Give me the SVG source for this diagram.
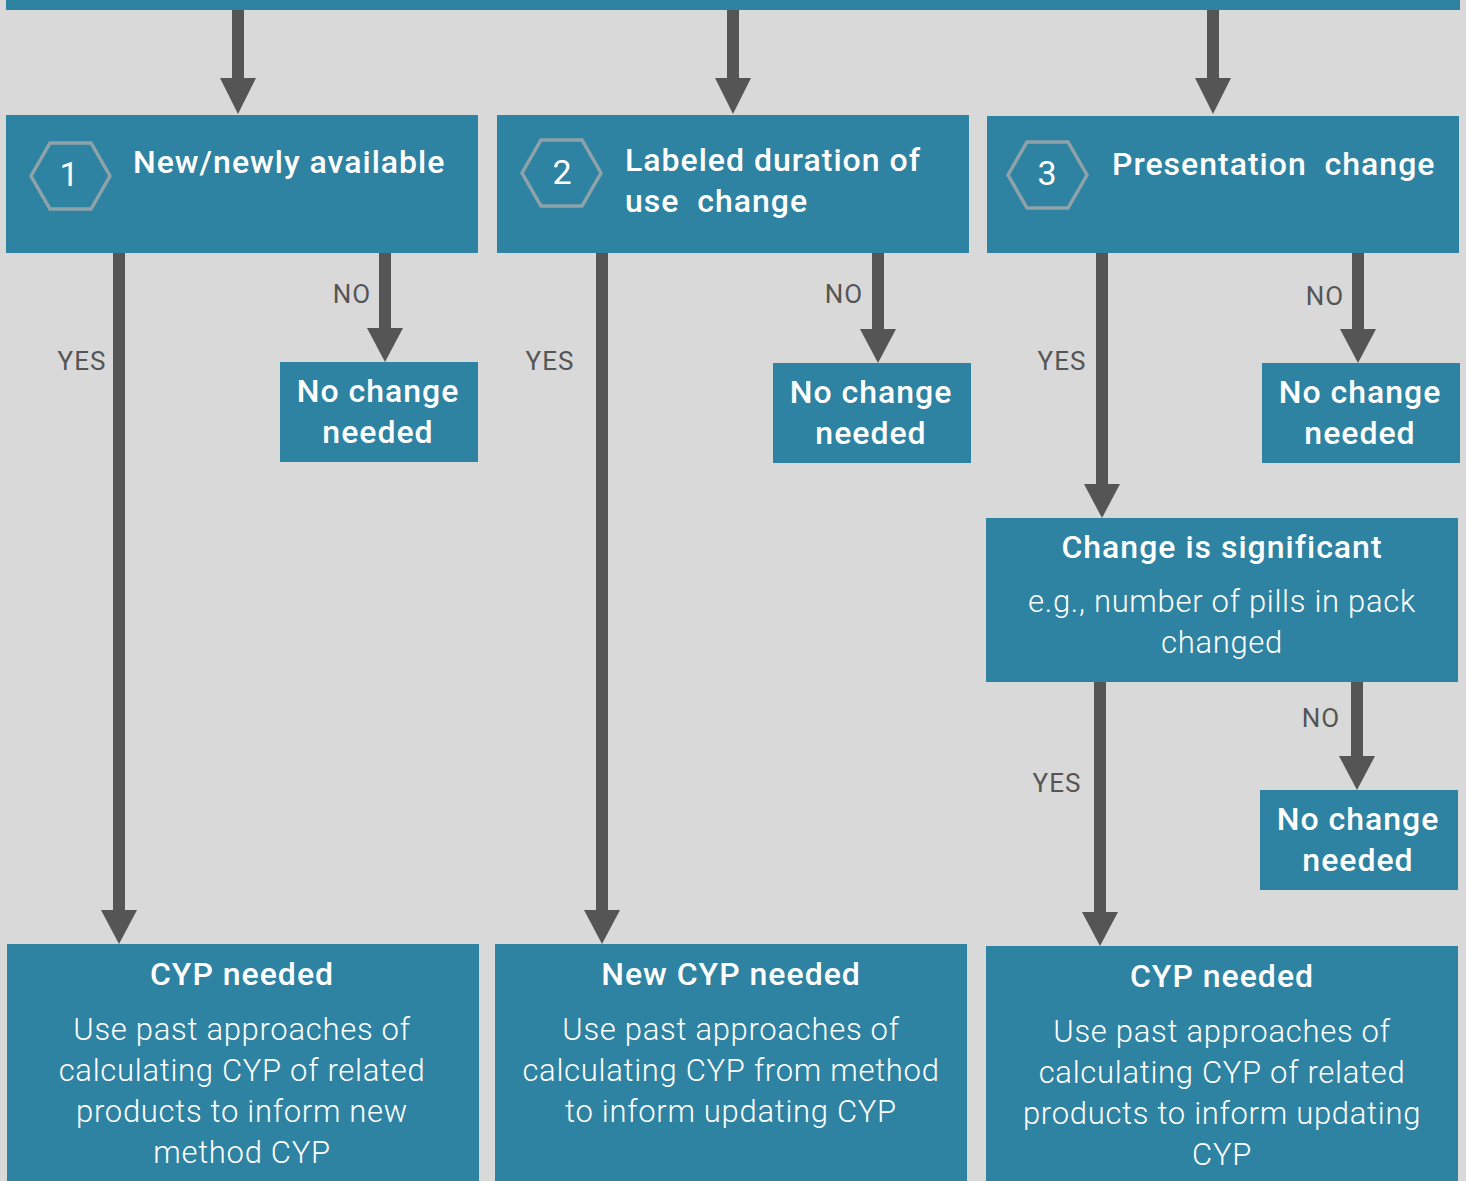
<svg xmlns="http://www.w3.org/2000/svg" width="1466" height="1181" viewBox="0 0 1466 1181">
<style>
.box{fill:#2e83a2}
.hex{fill:none;stroke:#8ea2a9;stroke-width:3.5}
.t{font-family:Roboto,"Liberation Sans",sans-serif;fill:#fff}
.hd{font-size:32px;font-weight:500;letter-spacing:1px}
.bd{font-size:31px;font-weight:300;letter-spacing:0.7px}
.num{font-size:34px;font-weight:400}
.lbl{font-family:Roboto,"Liberation Sans",sans-serif;fill:#555;font-size:26px;font-weight:400;letter-spacing:1px}
.ln{stroke:#555;stroke-width:12;fill:none}
.ah{fill:#555}
</style>
<rect width="1466" height="1181" fill="#d9d9d9"/>
<rect class="box" x="6" y="0" width="1454" height="10"/>
<g id="connectors">
  <line class="ln" x1="238" y1="10" x2="238" y2="80"/><polygon class="ah" points="220,78 256,78 238,114"/>
  <line class="ln" x1="733" y1="10" x2="733" y2="80"/><polygon class="ah" points="715,78 751,78 733,114"/>
  <line class="ln" x1="1213" y1="10" x2="1213" y2="80"/><polygon class="ah" points="1195,78 1231,78 1213,114"/>
  <line class="ln" x1="119" y1="253" x2="119" y2="912"/><polygon class="ah" points="101,910 137,910 119,944"/>
  <line class="ln" x1="385" y1="253" x2="385" y2="330"/><polygon class="ah" points="367,328 403,328 385,362"/>
  <line class="ln" x1="602" y1="253" x2="602" y2="912"/><polygon class="ah" points="584,910 620,910 602,944"/>
  <line class="ln" x1="878" y1="253" x2="878" y2="331"/><polygon class="ah" points="860,329 896,329 878,363"/>
  <line class="ln" x1="1102" y1="253" x2="1102" y2="486"/><polygon class="ah" points="1084,484 1120,484 1102,518"/>
  <line class="ln" x1="1358" y1="253" x2="1358" y2="331"/><polygon class="ah" points="1340,329 1376,329 1358,363"/>
  <line class="ln" x1="1100" y1="682" x2="1100" y2="914"/><polygon class="ah" points="1082,912 1118,912 1100,946"/>
  <line class="ln" x1="1357" y1="682" x2="1357" y2="758"/><polygon class="ah" points="1339,756 1375,756 1357,790"/>
  <text class="lbl" x="82" y="370" text-anchor="middle">YES</text>
  <text class="lbl" x="352" y="303" text-anchor="middle">NO</text>
  <text class="lbl" x="550" y="370" text-anchor="middle">YES</text>
  <text class="lbl" x="844" y="303" text-anchor="middle">NO</text>
  <text class="lbl" x="1062" y="370" text-anchor="middle">YES</text>
  <text class="lbl" x="1325" y="305" text-anchor="middle">NO</text>
  <text class="lbl" x="1057" y="792" text-anchor="middle">YES</text>
  <text class="lbl" x="1321" y="727" text-anchor="middle">NO</text>
</g>
<g id="node1">
  <rect class="box" x="6" y="115" width="472" height="138"/>
  <polygon class="hex" points="31,176 50,143 91,143 110,176 91,209 50,209"/>
  <text class="t num" x="69" y="186" text-anchor="middle">1</text>
  <text class="t hd" x="133" y="173">New/newly available</text>
</g>
<g id="node2">
  <rect class="box" x="497" y="115" width="472" height="138"/>
  <polygon class="hex" points="522,173 541,140 582,140 601,173 582,206 541,206"/>
  <text class="t num" x="562" y="184" text-anchor="middle">2</text>
  <text class="t hd" x="625" y="171">Labeled duration of</text>
  <text class="t hd" x="625" y="212" xml:space="preserve">use  change</text>
</g>
<g id="node3">
  <rect class="box" x="987" y="116" width="472" height="137"/>
  <polygon class="hex" points="1008,175 1027,142 1068,142 1087,175 1068,208 1027,208"/>
  <text class="t num" x="1047" y="185" text-anchor="middle">3</text>
  <text class="t hd" x="1112" y="175" xml:space="preserve">Presentation  change</text>
</g>
<g id="nochange1">
  <rect class="box" x="280" y="362" width="198" height="100"/>
  <text class="t hd" x="378" y="402" text-anchor="middle">No change</text>
  <text class="t hd" x="378" y="443" text-anchor="middle">needed</text>
</g>
<g id="nochange2">
  <rect class="box" x="773" y="363" width="198" height="100"/>
  <text class="t hd" x="871" y="403" text-anchor="middle">No change</text>
  <text class="t hd" x="871" y="444" text-anchor="middle">needed</text>
</g>
<g id="nochange3">
  <rect class="box" x="1262" y="363" width="198" height="100"/>
  <text class="t hd" x="1360" y="403" text-anchor="middle">No change</text>
  <text class="t hd" x="1360" y="444" text-anchor="middle">needed</text>
</g>
<g id="significant">
  <rect class="box" x="986" y="518" width="472" height="164"/>
  <text class="t hd" x="1222" y="558" text-anchor="middle">Change is significant</text>
  <text class="t bd" x="1222" y="612" text-anchor="middle">e.g., number of pills in pack</text>
  <text class="t bd" x="1222" y="653" text-anchor="middle">changed</text>
</g>
<g id="nochange4">
  <rect class="box" x="1260" y="790" width="198" height="100"/>
  <text class="t hd" x="1358" y="830" text-anchor="middle">No change</text>
  <text class="t hd" x="1358" y="871" text-anchor="middle">needed</text>
</g>
<g id="cyp1">
  <rect class="box" x="7" y="944" width="472" height="237"/>
  <text class="t hd" x="242" y="985" text-anchor="middle">CYP needed</text>
  <text class="t bd" x="242" y="1040" text-anchor="middle">Use past approaches of</text>
  <text class="t bd" x="242" y="1081" text-anchor="middle">calculating CYP of related</text>
  <text class="t bd" x="242" y="1122" text-anchor="middle">products to inform new</text>
  <text class="t bd" x="242" y="1163" text-anchor="middle">method CYP</text>
</g>
<g id="cyp2">
  <rect class="box" x="495" y="944" width="472" height="237"/>
  <text class="t hd" x="731" y="985" text-anchor="middle">New CYP needed</text>
  <text class="t bd" x="731" y="1040" text-anchor="middle">Use past approaches of</text>
  <text class="t bd" x="731" y="1081" text-anchor="middle">calculating CYP from method</text>
  <text class="t bd" x="731" y="1122" text-anchor="middle">to inform updating CYP</text>
</g>
<g id="cyp3">
  <rect class="box" x="986" y="946" width="472" height="235"/>
  <text class="t hd" x="1222" y="987" text-anchor="middle">CYP needed</text>
  <text class="t bd" x="1222" y="1042" text-anchor="middle">Use past approaches of</text>
  <text class="t bd" x="1222" y="1083" text-anchor="middle">calculating CYP of related</text>
  <text class="t bd" x="1222" y="1124" text-anchor="middle">products to inform updating</text>
  <text class="t bd" x="1222" y="1165" text-anchor="middle">CYP</text>
</g>
</svg>
